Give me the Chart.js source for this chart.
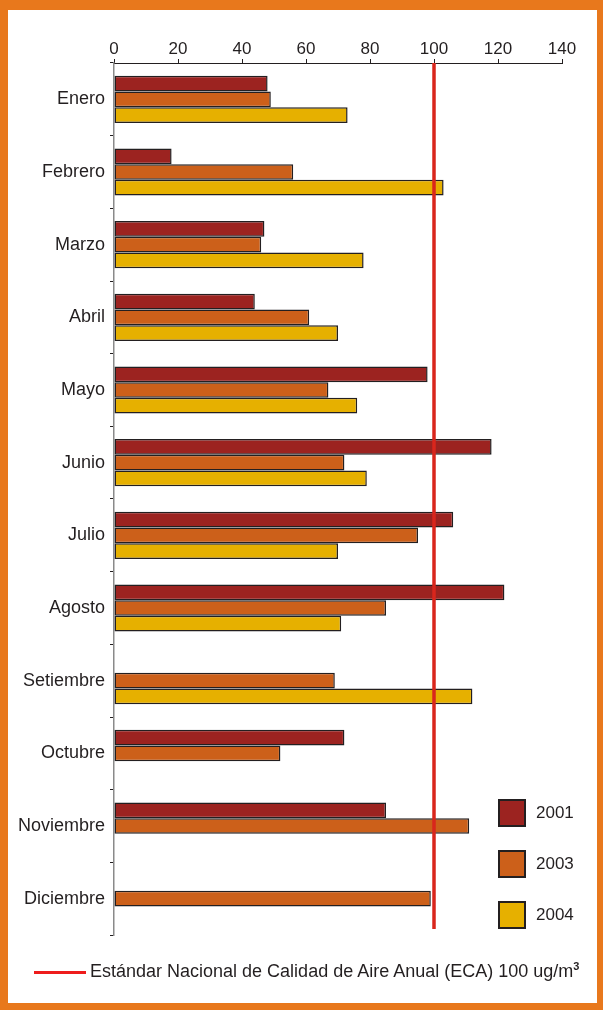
<!DOCTYPE html>
<html>
<head>
<meta charset="utf-8">
<script src="https://cdn.jsdelivr.net/npm/chart.js@4/dist/chart.umd.min.js"></script>
<style>
  html, body { margin: 0; padding: 0; }
  body { width: 603px; height: 1010px; background: #e8781c; position: relative; overflow: hidden;
         font-family: "Liberation Sans", Arial, sans-serif; color: #231f20; }
  .panel { position: absolute; left: 8px; top: 10px; width: 589px; height: 993px; background: #fff; }
  canvas { position: absolute; left: 0; top: 0; }
  .key { position: absolute; left: 498px; width: 120px; height: 28px; font-size: 17px; }
  .key i { position: absolute; left: 0; top: 0; width: 24px; height: 24px; border: 2px solid #231f20; }
  .key span { position: absolute; left: 38px; top: 4px; }
  .eca { position: absolute; left: 34px; top: 960px; font-size: 18px; white-space: nowrap; }
  .eca b { display: inline-block; width: 52px; height: 3px; background: #ee1c1c; vertical-align: middle; margin-right: 4px; }
  .eca sup { font-size: 11px; font-weight: bold; }
</style>
</head>
<body>
<div class="panel"></div>
<canvas id="chart" width="603" height="1010"></canvas>

<div class="key" style="top:799px"><i style="background:#9c2320"></i><span>2001</span></div>
<div class="key" style="top:850px"><i style="background:#cc601a"></i><span>2003</span></div>
<div class="key" style="top:901px"><i style="background:#e6b000"></i><span>2004</span></div>
<div class="eca"><b></b>Estándar Nacional de Calidad de Aire Anual (ECA) 100 ug/m<sup>3</sup></div>

<script>
// PM10 monthly averages, three years, against the 100 ug/m3 annual standard.
const months = ['Enero', 'Febrero', 'Marzo', 'Abril', 'Mayo', 'Junio', 'Julio',
  'Agosto', 'Setiembre', 'Octubre', 'Noviembre', 'Diciembre'];

const y2001 = [48, 18, 47, 44, 98, 118, 106, 122, null, 72, 85, null];
const y2003 = [49, 56, 46, 61, 67, 72, 95, 85, 69, 52, 111, 99];
const y2004 = [73, 103, 78, 70, 76, 79, 70, 71, 112, null, null, null];

const xTicks = [0, 20, 40, 60, 80, 100, 120, 140];
const standard = 100;

const ink = '#231f20';
const edge = '#231f20';

function bar(label, data, color) {
  return {
    label,
    data,
    backgroundColor: color,
    borderColor: edge,
    borderWidth: 1.5,
    borderSkipped: false,
    barPercentage: 1,
    categoryPercentage: 0.65,
  };
}

// vertical ECA line, drawn over the bars
const ecaLine = {
  id: 'ecaLine',
  afterDatasetsDraw(chart) {
    const { ctx, chartArea, scales } = chart;
    const x = scales.x.getPixelForValue(standard);
    ctx.save();
    ctx.strokeStyle = '#d9261c';
    ctx.lineWidth = 3.5;
    ctx.beginPath();
    ctx.moveTo(x, chartArea.top);
    ctx.lineTo(x, chartArea.bottom - 6);
    ctx.stroke();
    ctx.restore();
  },
};

new Chart(document.getElementById('chart'), {
  type: 'bar',
  data: {
    labels: months,
    datasets: [
      bar('2001', y2001, '#9c2320'),
      bar('2003', y2003, '#cc601a'),
      bar('2004', y2004, '#e6b000'),
    ],
  },
  options: {
    indexAxis: 'y',
    responsive: false,
    animation: false,
    layout: { padding: { left: 0, top: 0, right: 41, bottom: 75 } },
    plugins: { legend: { display: false }, tooltip: { enabled: false } },
    scales: {
      x: {
        position: 'top',
        min: 0,
        max: 140,
        afterBuildTicks: (s) => { s.ticks = xTicks.map((v) => ({ value: v })); },
        afterFit: (s) => { s.height = 63; },
        ticks: { color: ink, padding: -1, font: { family: 'Liberation Sans', size: 17 } },
        grid: { drawOnChartArea: false, drawTicks: true, tickLength: 4, color: ink },
        border: { color: ink, width: 1 },
      },
      y: {
        afterFit: (s) => { s.width = 114; },
        ticks: { color: ink, padding: 5, font: { family: 'Liberation Sans', size: 18 } },
        grid: { drawOnChartArea: false, drawTicks: true, tickLength: 4, color: ink },
        border: { color: '#8a8a8a', width: 1.5 },
      },
    },
  },
  plugins: [ecaLine],
});
</script>
</body>
</html>
